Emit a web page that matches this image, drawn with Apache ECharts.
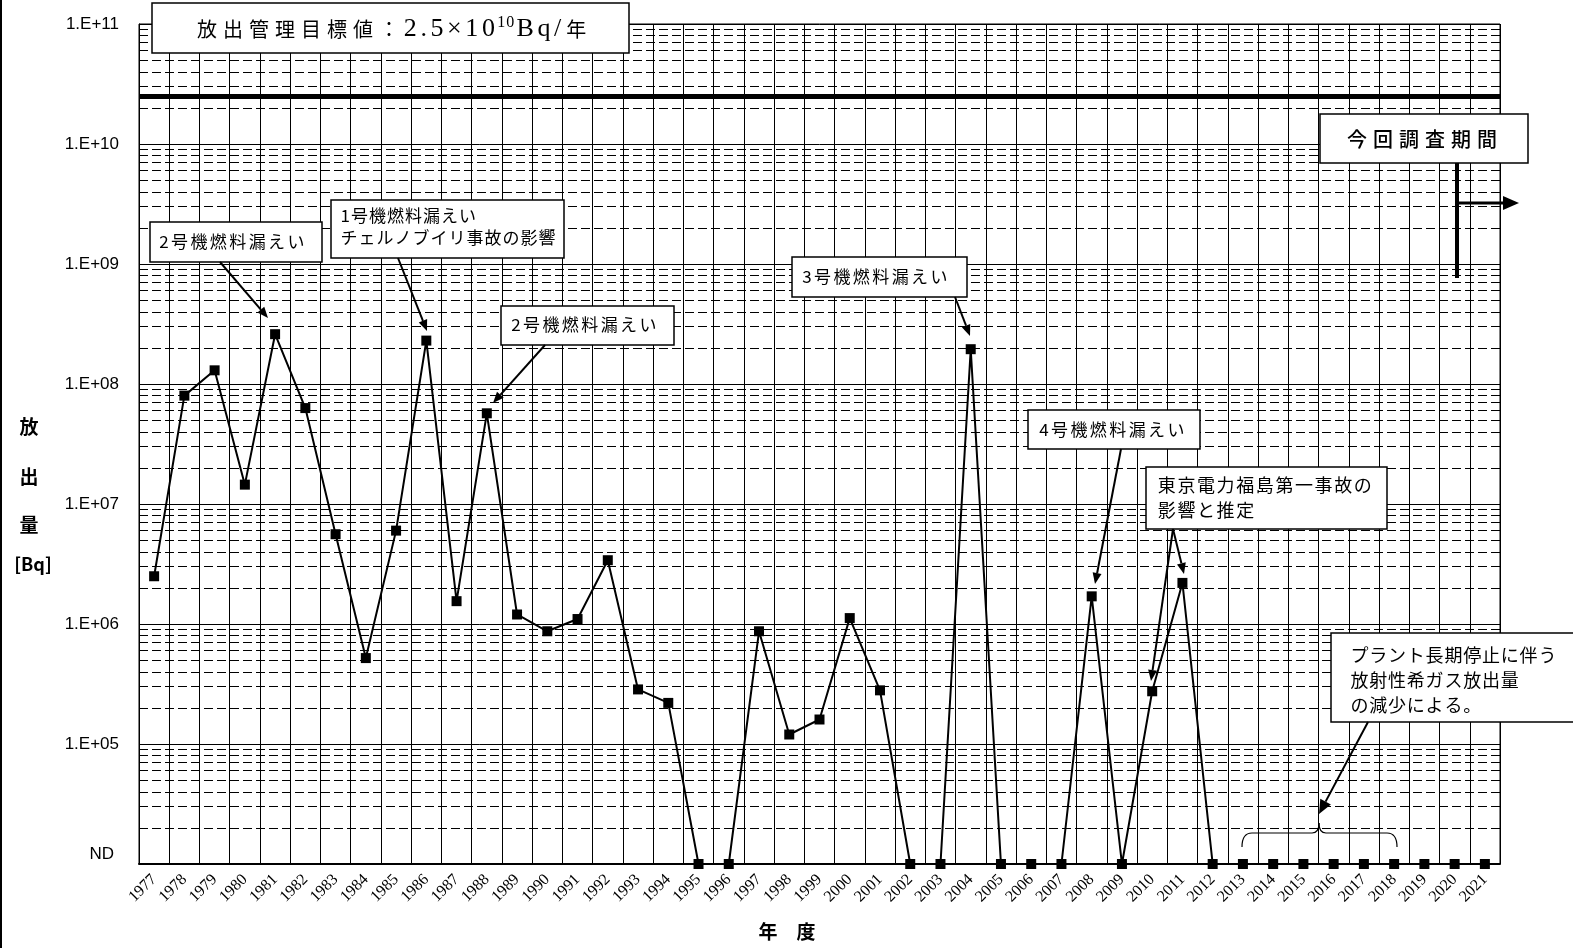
<!DOCTYPE html>
<html>
<head>
<meta charset="utf-8">
<script src="https://cdn.jsdelivr.net/npm/echarts@6/dist/echarts.min.js"></script>
<style>
  html, body { margin: 0; padding: 0; background: #fff; }
  #chart { width: 1573px; height: 948px; }
</style>
</head>
<body>
<div id="chart"></div>
<script>
// 年度
const years = ['1977', '1978', '1979', '1980', '1981', '1982', '1983', '1984', '1985', '1986',
  '1987', '1988', '1989', '1990', '1991', '1992', '1993', '1994', '1995', '1996',
  '1997', '1998', '1999', '2000', '2001', '2002', '2003', '2004', '2005', '2006',
  '2007', '2008', '2009', '2010', '2011', '2012', '2013', '2014', '2015', '2016',
  '2017', '2018', '2019', '2020', '2021']

// ND は軸の下端 (1E+04) に置く
const ND = 1e4
const release = [2.5e6, 8.0e7, 1.3e8, 1.45e7, 2.6e8, 6.3e7, 5.6e6, 5.2e5, 6.0e6, 2.3e8,
  1.55e6, 5.7e7, 1.2e6, 8.7e5, 1.1e6, 3.4e6, 2.85e5, 2.2e5, ND, ND,
  8.7e5, 1.2e5, 1.6e5, 1.12e6, 2.8e5, ND, ND, 1.95e8, ND, ND,
  ND, 1.7e6, ND, 2.75e5, 2.2e6, ND, ND, ND, ND, ND,
  ND, ND, ND, ND, ND]

const targetValue = 2.5e10
const yTickLabels = ['ND', '1.E+05', '1.E+06', '1.E+07', '1.E+08', '1.E+09', '1.E+10', '1.E+11']

// 補助目盛 (2〜9 × 10^n) の破線
const minorGrid = []
for (let e = 4; e < 11; e++) {
  for (let k = 2; k <= 9; k++) minorGrid.push(k * Math.pow(10, e))
}

const JP = '"Noto Sans CJK JP", sans-serif'

function arrow(x1, y1, x2, y2, w = 2, head = 11, hw = 4.5) {
  const a = Math.atan2(y2 - y1, x2 - x1)
  const bx = x2 - head * Math.cos(a), by = y2 - head * Math.sin(a)
  const px = -Math.sin(a) * hw, py = Math.cos(a) * hw
  return [
    {type: 'line', shape: {x1: x1, y1: y1, x2: bx, y2: by}, style: {stroke: '#000', lineWidth: w}},
    {type: 'polygon', shape: {points: [[x2, y2], [bx + px, by + py], [bx - px, by - py]]}, style: {fill: '#000'}}
  ]
}

// 文字ごとに rich トークンにして字間を空ける
function spaced(str, key) {
  return str.split('\n').map(line => line.split('').map(c => '{' + key + '|' + c + '}').join('')).join('\n')
}

function box(x, y, w, h, text, tx, ty, size, pad, lineHeight) {
  return [
    {type: 'rect', shape: {x: x, y: y, width: w, height: h}, style: {fill: '#fff', stroke: '#000', lineWidth: 1.5}},
    {type: 'text', x: tx, y: ty, style: {
      text: spaced(text, 'c'), fill: '#000', verticalAlign: 'middle', align: 'left',
      rich: {c: {fontFamily: 'Noto Sans CJK JP', fontSize: size, padding: [0, pad, 0, pad], lineHeight: lineHeight || size + 4}}
    }}
  ]
}

function curve(x1, y1, cx, cy, x2, y2) {
  return {type: 'bezierCurve', shape: {x1: x1, y1: y1, cpx1: cx, cpy1: cy, x2: x2, y2: y2},
    style: {stroke: '#000', lineWidth: 1.2, fill: null}}
}
function seg(x1, y1, x2, y2) {
  return {type: 'line', shape: {x1: x1, y1: y1, x2: x2, y2: y2}, style: {stroke: '#000', lineWidth: 1.2}}
}

const titleText = spaced('放出管理目標値', 'a') + '{a|：}' + spaced('2.5×10', 'b') + spaced('10', 'sup') + spaced('Bq/', 'b') + '{a|年}'

const graphics = [].concat(
  [{type: 'line', shape: {x1: 1, y1: 0, x2: 1, y2: 948}, style: {stroke: '#000', lineWidth: 2}}],
  [
    {type: 'rect', shape: {x: 152, y: 3, width: 477, height: 50}, style: {fill: '#fff', stroke: '#000', lineWidth: 1.5}},
    {type: 'text', x: 194, y: 29, style: {
      text: titleText, fill: '#000', verticalAlign: 'middle', align: 'left',
      rich: {
        a: {fontFamily: 'Noto Sans CJK JP', fontSize: 20, padding: [0, 3, 0, 3]},
        b: {fontFamily: '"Liberation Serif", serif', fontSize: 26, padding: [0, 1.8, 0, 1.8]},
        sup: {fontFamily: '"Liberation Serif", serif', fontSize: 16, padding: [0, 0.5, 12, 0.5]}
      }
    }}
  ],
  box(150, 222, 172, 40, '2号機燃料漏えい', 158, 242, 17, 1.2),
  arrow(220, 262, 268, 318),
  box(331, 200, 233, 58, '1号機燃料漏えい\nチェルノブイリ事故の影響', 340, 227, 17, 0.5, 22),
  arrow(398, 258, 427, 331),
  box(501, 306, 173, 39, '2号機燃料漏えい', 510, 325, 17, 1.2),
  arrow(545, 345, 493, 403),
  box(792, 257, 175, 40, '3号機燃料漏えい', 801, 277, 17, 1.2),
  arrow(955, 297, 970, 336),
  box(1028, 410, 172, 39, '4号機燃料漏えい', 1038, 430, 17, 1.2),
  arrow(1121, 449, 1095, 584),
  box(1146, 467, 241, 62, '東京電力福島第一事故の\n影響と推定', 1157, 498, 18, 0.8, 25),
  arrow(1173, 529, 1151, 681),
  arrow(1173, 529, 1184, 574),
  box(1331, 633, 260, 89, 'プラント長期停止に伴う\n放射性希ガス放出量\nの減少による。', 1350, 680, 18, 0.4, 25),
  arrow(1368, 722, 1319, 814, 2, 14, 6),
  [
    curve(1242, 847, 1242, 833, 1252, 833),
    seg(1252, 833, 1312, 833),
    curve(1312, 833, 1319, 833, 1319, 823),
    curve(1319, 823, 1319, 833, 1326, 833),
    seg(1326, 833, 1387, 833),
    curve(1387, 833, 1397, 833, 1397, 847)
  ],
  [
    {type: 'rect', shape: {x: 1320, y: 114, width: 208, height: 49}, style: {fill: '#fff', stroke: '#000', lineWidth: 1.5}},
    {type: 'text', x: 1344, y: 139, style: {
      text: spaced('今回調査期間', 'a'), fill: '#000', verticalAlign: 'middle', align: 'left',
      rich: {a: {fontFamily: 'Noto Sans CJK JP', fontSize: 20, fontWeight: 500, padding: [0, 3, 0, 3]}}
    }}
  ],
  [{type: 'line', shape: {x1: 1457, y1: 163, x2: 1457, y2: 278}, style: {stroke: '#000', lineWidth: 4}}],
  arrow(1459, 203, 1519, 203, 3, 16, 7),
  [
    {type: 'text', x: 29, y: 427, style: {text: '放', font: 'bold 19px ' + JP, fill: '#000', align: 'center', verticalAlign: 'middle'}},
    {type: 'text', x: 29, y: 477, style: {text: '出', font: 'bold 19px ' + JP, fill: '#000', align: 'center', verticalAlign: 'middle'}},
    {type: 'text', x: 29, y: 525, style: {text: '量', font: 'bold 19px ' + JP, fill: '#000', align: 'center', verticalAlign: 'middle'}},
    {type: 'text', x: 33, y: 564, style: {text: '[Bq]', font: 'bold 18px ' + JP, fill: '#000', align: 'center', verticalAlign: 'middle'}},
    {type: 'text', x: 787, y: 932, style: {text: '年　度', font: 'bold 19px ' + JP, fill: '#000', align: 'center', verticalAlign: 'middle'}}
  ]
).map(g => Object.assign({z: 100}, g))

const option = {
  animation: false,
  backgroundColor: '#fff',
  grid: {left: 139, right: 73, top: 24, bottom: 84, show: true, borderColor: '#000', borderWidth: 1},
  xAxis: {
    type: 'category',
    data: years,
    boundaryGap: true,
    axisLine: {lineStyle: {color: '#000', width: 2}},
    axisTick: {show: false},
    axisLabel: {rotate: 45, interval: 0, fontSize: 16, color: '#000', fontFamily: '"Liberation Serif"', margin: 13},
    splitLine: {show: true, interval: 0, lineStyle: {color: '#000', width: 1}}
  },
  yAxis: {
    type: 'log',
    logBase: 10,
    min: 1e4,
    max: 1e11,
    splitNumber: 7,
    axisLine: {show: true, lineStyle: {color: '#000'}},
    axisTick: {show: false},
    axisLabel: {
      color: '#000',
      fontSize: 17,
      fontFamily: '"Liberation Sans"',
      margin: 20,
      formatter: v => {
        const e = Math.round(Math.log10(v))
        return e === 4 ? '{nd|ND}' : yTickLabels[e - 4]
      },
      rich: {nd: {fontSize: 17, fontFamily: '"Liberation Sans"', color: '#000', padding: [0, 5, 20, 0]}}
    },
    splitLine: {show: true, lineStyle: {color: '#000', width: 1}}
  },
  series: [
    {
      type: 'line',
      data: release,
      z: 1,
      silent: true,
      showSymbol: false,
      lineStyle: {opacity: 0},
      markLine: {
        silent: true,
        symbol: 'none',
        label: {show: false},
        lineStyle: {color: '#000', type: [9, 4], width: 1},
        data: minorGrid.map(v => ({yAxis: v}))
      }
    },
    {
      type: 'line',
      data: release,
      z: 5,
      symbol: 'rect',
      symbolSize: 10,
      itemStyle: {color: '#000'},
      lineStyle: {color: '#000', width: 2},
      markLine: {
        silent: true,
        symbol: 'none',
        label: {show: false},
        lineStyle: {color: '#000', type: 'solid', width: 5},
        data: [{yAxis: targetValue}]
      }
    }
  ],
  graphic: graphics
}

const chart = echarts.init(document.getElementById('chart'))
chart.setOption(option)
window.onresize = () => chart.resize()
</script>
</body>
</html>
